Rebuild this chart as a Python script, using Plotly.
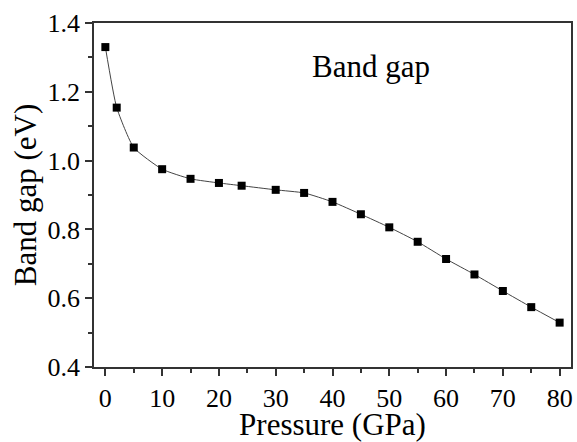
import plotly.graph_objects as go

pressure = [0, 2, 5, 10, 15, 20, 24, 30, 35, 40, 45, 50, 55, 60, 65, 70, 75, 80]
band_gap = [1.330, 1.154, 1.038, 0.975, 0.947, 0.935, 0.927, 0.915, 0.906, 0.880,
            0.844, 0.806, 0.764, 0.714, 0.669, 0.621, 0.574, 0.529]

FONT = "Liberation Serif"
AX = "#333333"

fig = go.Figure()
fig.add_trace(go.Scatter(
    x=pressure, y=band_gap, mode="lines+markers",
    line=dict(color="#444444", width=1, shape="spline", smoothing=0.5),
    marker=dict(symbol="square", size=8, color="black"),
    showlegend=False,
))

fig.add_annotation(x=0.58, y=0.875, xref="paper", yref="paper", xanchor="center", yanchor="middle",
                   text="Band gap", showarrow=False, font=dict(family=FONT, size=31, color="black"))

fig.update_xaxes(range=[-2, 82], tickvals=list(range(0, 81, 10)), ticks="outside", ticklen=7,
                 tickwidth=1.5, tickcolor=AX, showline=True, linecolor=AX, linewidth=1.7, mirror=True,
                 showgrid=False, zeroline=False,
                 minor=dict(tickvals=list(range(5, 80, 10)), ticks="outside", ticklen=4, tickcolor=AX, tickwidth=1.5),
                 tickfont=dict(family=FONT, size=26, color="black"),
                 title=dict(text="Pressure (GPa)", font=dict(family=FONT, size=31, color="black"), standoff=3))
fig.update_yaxes(range=[0.4, 1.4], tickvals=[0.4, 0.6, 0.8, 1.0, 1.2, 1.4], ticktext=["0.4", "0.6", "0.8", "1.0", "1.2", "1.4"],
                 ticks="outside", ticklen=7, tickwidth=1.5, tickcolor=AX,
                 showline=True, linecolor=AX, linewidth=1.7, mirror=True, showgrid=False, zeroline=False,
                 minor=dict(tickvals=[0.5, 0.7, 0.9, 1.1, 1.3], ticks="outside", ticklen=4, tickcolor=AX, tickwidth=1.5),
                 tickfont=dict(family=FONT, size=26, color="black"),
                 title=dict(text="Band gap (eV)", font=dict(family=FONT, size=31, color="black"), standoff=2))

fig.update_layout(width=577, height=442, margin=dict(l=94, r=4, t=23, b=70),
                  paper_bgcolor="white", plot_bgcolor="white")

fig.write_html("out.html", config={"displayModeBar": False},
               post_script="document.body.style.margin='0';document.body.style.overflow='hidden';")
